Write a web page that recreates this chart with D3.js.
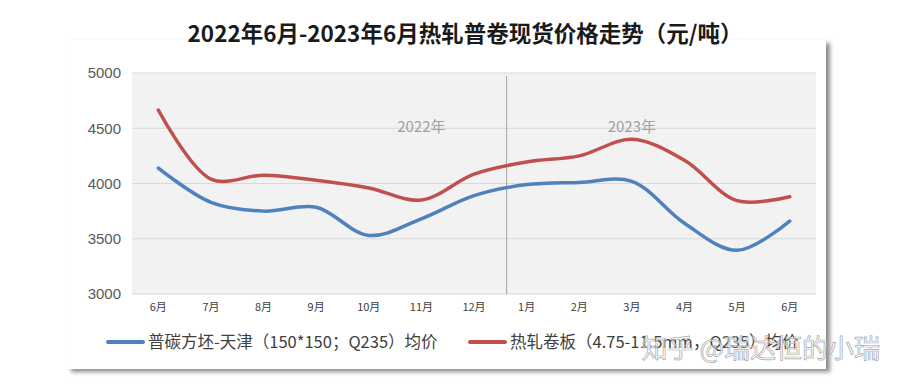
<!DOCTYPE html>
<html>
<head>
<meta charset="utf-8">
<script src="https://cdn.jsdelivr.net/npm/d3@7"></script>
<style>
  body { margin: 0; background: #fff; }
  text { font-family: "Noto Sans CJK SC", "Microsoft YaHei", sans-serif; }
</style>
</head>
<body>
<div id="chart"></div>
<script>
// months on the x axis
var months = ["6月","7月","8月","9月","10月","11月","12月","1月","2月","3月","4月","5月","6月"];
// 普碳方坯-天津 均价
var billet = [4140, 3830, 3750, 3785, 3530, 3680, 3890, 3990, 4010, 4020, 3640, 3395, 3660];
// 热轧卷板 均价
var hrc = [4665, 4040, 4075, 4030, 3960, 3850, 4085, 4195, 4250, 4400, 4210, 3845, 3880];
var yTicks = [3000, 3500, 4000, 4500, 5000];
var yearLabels = ["2022年", "2023年"];
var seriesNames = ["普碳方坯-天津（150*150；Q235）均价", "热轧卷板（4.75-11.5mm，Q235）均价"];

var W = 900, H = 385;
var margin = {top: 73, right: 84, bottom: 91, left: 132};
var width = W - margin.left - margin.right,
    height = H - margin.top - margin.bottom;

var svg = d3.select("#chart").append("svg")
    .attr("width", W)
    .attr("height", H);

var defs = svg.append("defs");
var f = defs.append("filter").attr("id", "shadow")
    .attr("x", "-5%").attr("y", "-5%").attr("width", "115%").attr("height", "115%");
f.append("feDropShadow").attr("dx", 4).attr("dy", 3).attr("stdDeviation", 2)
    .attr("flood-color", "#000").attr("flood-opacity", 0.45);

// card
svg.append("rect")
    .attr("x", 67).attr("y", 40).attr("width", 759).attr("height", 329)
    .attr("fill", "#fff").attr("filter", "url(#shadow)");

// title
svg.append("text")
    .attr("x", 465).attr("y", 42)
    .attr("text-anchor", "middle")
    .attr("font-size", 22.5).attr("font-weight", "bold").attr("fill", "#1a1a1a")
    .text("2022年6月-2023年6月热轧普卷现货价格走势（元/吨）");

var g = svg.append("g")
    .attr("transform", "translate(" + margin.left + "," + margin.top + ")");

var x = d3.scaleBand().domain(d3.range(months.length)).range([0, width]);
var y = d3.scaleLinear().domain([3000, 5000]).range([height, 0]);

// plot background
g.append("rect")
    .attr("width", width).attr("height", height)
    .attr("fill", "#f2f2f2");

// grid lines
g.selectAll(".grid").data(yTicks).enter().append("line")
    .attr("x1", 0).attr("x2", width)
    .attr("y1", function(d) { return y(d); })
    .attr("y2", function(d) { return y(d); })
    .attr("stroke", "#d9d9d9").attr("stroke-width", 1);

// y axis labels
var yAxis = g.append("g").call(d3.axisLeft(y).tickValues(yTicks).tickFormat(d3.format("d")).tickSize(0).tickPadding(11));
yAxis.select(".domain").remove();
yAxis.selectAll("text").attr("font-size", 15).attr("fill", "#595959")
    .style("font-family", "'Liberation Sans', Arial, sans-serif");

// x axis labels
var xAxis = g.append("g")
    .attr("transform", "translate(0," + height + ")")
    .call(d3.axisBottom(x).tickFormat(function(i) { return months[i]; }).tickSize(0).tickPadding(9));
xAxis.select(".domain").remove();
xAxis.selectAll("text").attr("font-size", 11).attr("fill", "#404040");

// year divider, just left of January
var divX = x(7) + x.bandwidth() / 2 - 20;
g.append("line")
    .attr("x1", divX).attr("x2", divX)
    .attr("y1", 3).attr("y2", height)
    .attr("stroke", "#a6a6a6").attr("stroke-width", 1);

g.selectAll(".year").data(yearLabels).enter().append("text")
    .attr("x", function(d, i) { return x(i === 0 ? 5 : 9) + x.bandwidth() / 2; })
    .attr("y", y(4500) + 4)
    .attr("text-anchor", "middle")
    .attr("font-size", 15).attr("fill", "#a0a0a0")
    .text(function(d) { return d; });

var line = d3.line()
    .x(function(d, i) { return x(i) + x.bandwidth() / 2; })
    .y(function(d) { return y(d); })
    .curve(d3.curveCatmullRom.alpha(0.5));

var colors = ["#4f81bd", "#c0504d"];
[billet, hrc].forEach(function(s, k) {
  g.append("path")
      .datum(s)
      .attr("fill", "none")
      .attr("stroke", colors[k])
      .attr("stroke-width", 3.5)
      .attr("stroke-linecap", "round")
      .attr("d", line);
});

// legend
var legX = [108, 470];
seriesNames.forEach(function(name, k) {
  svg.append("line")
      .attr("x1", legX[k]).attr("x2", legX[k] + 35)
      .attr("y1", 342).attr("y2", 342)
      .attr("stroke", colors[k]).attr("stroke-width", 4).attr("stroke-linecap", "round");
  svg.append("text")
      .attr("x", legX[k] + 40).attr("y", 348)
      .attr("font-size", 16.5).attr("fill", "#404040")
      .text(name);
});

// watermark
svg.append("text")
    .attr("x", 880).attr("y", 358)
    .attr("text-anchor", "end")
    .attr("font-size", 26).attr("fill", "#fff")
    .attr("stroke", "#a8a8a8").attr("stroke-width", 0.7)
    .attr("fill-opacity", 0.5)
    .text("知乎 @瑞达恒的小瑞");
</script>
</body>
</html>
